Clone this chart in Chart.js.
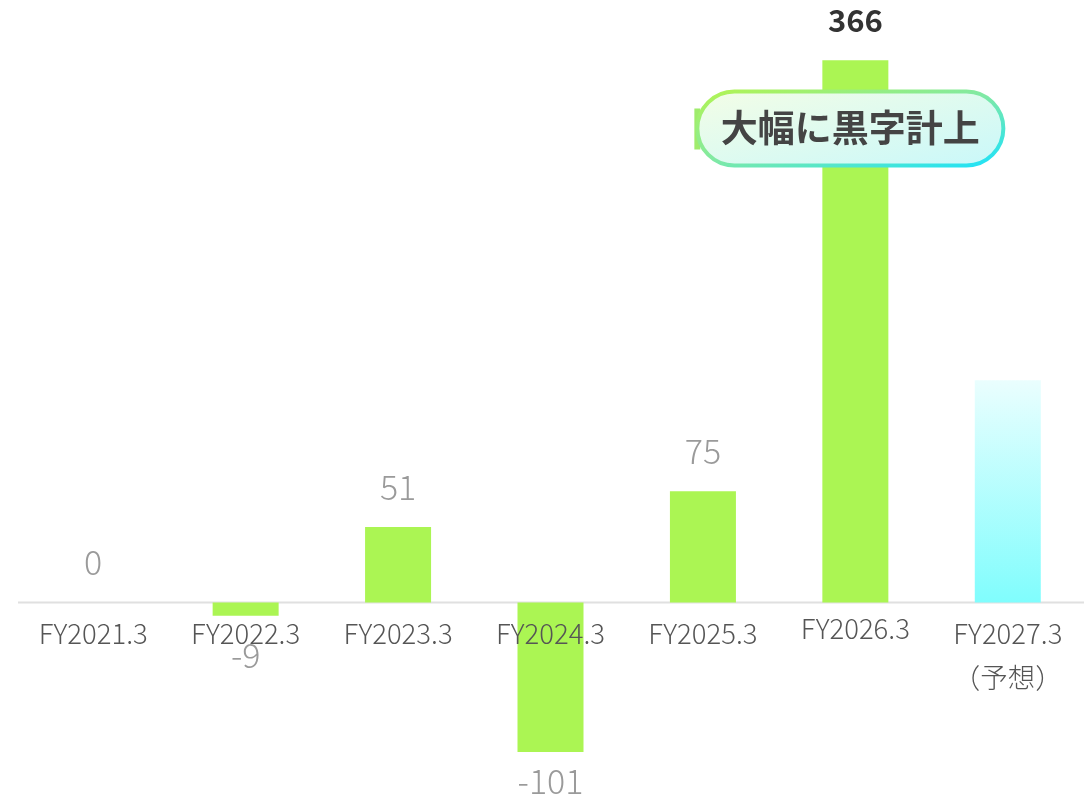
<!DOCTYPE html>
<html>
<head>
<meta charset="utf-8">
<script src="https://cdn.jsdelivr.net/npm/chart.js@4.4.1/dist/chart.umd.min.js"></script>
<style>
  html, body { margin: 0; padding: 0; background: #fff; }
  canvas { display: block; }
</style>
</head>
<body>
<canvas id="chart-profit" width="1084" height="796"></canvas>
<script>
const categories = ["FY2021.3", "FY2022.3", "FY2023.3", "FY2024.3", "FY2025.3", "FY2026.3", "FY2027.3"];
const subLabels = ["", "", "", "", "", "", "（予想）"];
const profit = [0, -9, 51, -101, 75, 366, 150];
const valueLabels = ["0", "-9", "51", "-101", "75", "366", ""];
const calloutText = "大幅に黒字計上";
const FONT = '"Noto Sans CJK JP", "Noto Sans", sans-serif';

const COLORS = {
    bar: '#abf553',
    forecastTop: '#eafefe',
    forecastBottom: '#80fdfd',
    zeroLine: '#e0e0e0',
    tick: '#555555',
    value: '#9a9a9a',
    highlight: '#333333'
};

function barColor(ctx) {
    const chart = ctx.chart;
    if (ctx.dataIndex !== 6) return COLORS.bar;
    if (!chart.chartArea) return COLORS.forecastBottom;
    const y = chart.scales.y;
    const g = chart.ctx.createLinearGradient(0, y.getPixelForValue(profit[6]), 0, y.getPixelForValue(0));
    g.addColorStop(0, COLORS.forecastTop);
    g.addColorStop(1, COLORS.forecastBottom);
    return g;
}

// css-like "to bottom right" gradient for a box
function diagGradient(ctx, cx, cy, w, h, stops) {
    const L = Math.sqrt(w * w + h * h);
    const dx = h / L, dy = w / L;
    const half = w * h / L;
    const g = ctx.createLinearGradient(cx - dx * half, cy - dy * half, cx + dx * half, cy + dy * half);
    stops.forEach(s => g.addColorStop(s[0], s[1]));
    return g;
}

const labelPlugin = {
    id: 'labels',
    beforeDatasetsDraw(chart) {
        const { ctx, chartArea, scales } = chart;
        const y0 = scales.y.getPixelForValue(0);
        ctx.save();
        ctx.strokeStyle = COLORS.zeroLine;
        ctx.lineWidth = 2;
        ctx.beginPath();
        ctx.moveTo(chartArea.left + 1, y0);
        ctx.lineTo(chartArea.right, y0);
        ctx.stroke();
        ctx.restore();
    },
    afterDatasetsDraw(chart) {
        const { ctx, scales } = chart;
        const y0 = scales.y.getPixelForValue(0);
        ctx.save();
        ctx.textAlign = 'center';
        ctx.textBaseline = 'middle';

        // category names sit just under the zero line
        ctx.fillStyle = COLORS.tick;
        ctx.font = `300 27.5px ${FONT}`;
        categories.forEach((c, i) => {
            const x = scales.x.getPixelForValue(i);
            const lift = i === 5 ? 5 : 0;
            ctx.fillText(c, x, y0 + 31 - lift);
            if (subLabels[i]) ctx.fillText(subLabels[i], x, y0 + 75);
        });

        // values
        profit.forEach((v, i) => {
            if (!valueLabels[i]) return;
            const x = scales.x.getPixelForValue(i);
            const yv = scales.y.getPixelForValue(v);
            let y = v >= 0 ? yv - 40 : yv + 39;
            y = Math.min(y, 781);
            if (i === 5) {
                ctx.fillStyle = COLORS.highlight;
                ctx.font = `bold 31px ${FONT}`;
            } else {
                ctx.fillStyle = COLORS.value;
                ctx.font = `300 34px ${FONT}`;
            }
            ctx.fillText(valueLabels[i], x, y);
        });

        // callout pill
        const cx = scales.x.getPixelForValue(5) - 5;
        const cy = scales.y.getPixelForValue(320);
        const w = 306, h = 74, r = h / 2;
        const left = cx - w / 2, top = cy - h / 2;

        ctx.fillStyle = '#9fec6c';
        ctx.fillRect(left - 3, cy - 20, 6, 41);

        const stroke = diagGradient(ctx, cx, cy, w, h, [[0, '#b2f452'], [0.5, '#7fe9a6'], [1, '#1de2fa']]);
        const fill = diagGradient(ctx, cx, cy, w, h, [[0, '#f3fde6'], [1, '#c9f8fa']]);
        ctx.beginPath();
        ctx.roundRect(left, top, w, h, r);
        ctx.fillStyle = fill;
        ctx.fill();
        ctx.lineWidth = 4;
        ctx.strokeStyle = stroke;
        ctx.stroke();

        ctx.fillStyle = '#444444';
        ctx.font = `bold 37px ${FONT}`;
        ctx.fillText(calloutText, cx, cy - 1);
        ctx.restore();
    }
};

new Chart(document.getElementById('chart-profit'), {
    type: 'bar',
    data: {
        labels: categories,
        datasets: [{
            data: profit,
            backgroundColor: barColor,
            borderWidth: 0,
            barPercentage: 0.433,
            categoryPercentage: 1
        }]
    },
    options: {
        responsive: false,
        animation: false,
        layout: { padding: { left: 17, right: 0, top: 10, bottom: 1 } },
        plugins: { legend: { display: false }, tooltip: { enabled: false } },
        scales: {
            x: { display: false },
            y: { display: false, min: -130, max: 400 }
        }
    },
    plugins: [labelPlugin]
});
</script>
</body>
</html>
